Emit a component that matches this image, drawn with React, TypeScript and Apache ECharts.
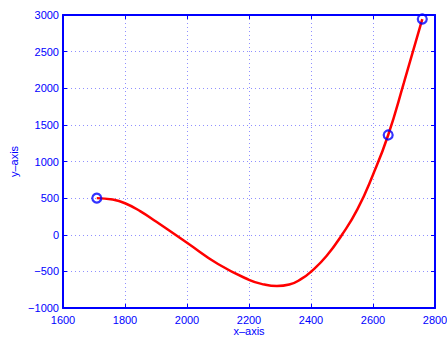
import React, { useEffect, useRef } from "react";
import * as echarts from "echarts";

const curveX = [1709, 1760, 1800, 1850, 1900, 2000, 2100, 2200, 2250, 2290, 2330, 2370, 2400, 2450, 2500, 2550, 2600, 2649, 2700, 2759];
const curveY = [500, 480, 430, 320, 180, -110, -400, -615, -680, -700, -680, -600, -505, -290, 0, 350, 820, 1362, 2080, 2945];
const markerX = [1709, 2649, 2759];
const markerY = [500, 1362, 2945];

const BLUE = "#0000ff";
const FONT = "Liberation Sans";

const fmt = (v: number) => (v < 0 ? "\u2212" + Math.abs(v) : String(v));

export default function App() {
  const ref = useRef<HTMLDivElement>(null);
  useEffect(() => {
    if (!ref.current) return;
    const chart = echarts.init(ref.current, undefined, { renderer: "svg" });
    const splitLine = {
      show: true,
      lineStyle: { color: "rgba(70,70,255,0.6)", type: [1, 3] as any, width: 1 },
    };
    const baseAxis = {
      axisLine: { show: true, onZero: false, lineStyle: { color: BLUE, width: 2 } },
      axisTick: { show: true, inside: true, length: 4, lineStyle: { color: BLUE, width: 1 } },
    };
    chart.setOption({
      animation: false,
      backgroundColor: "#ffffff",
      grid: { left: 63, right: 12, top: 15, bottom: 30, containLabel: false, outerBoundsMode: "none" },
      xAxis: [
        {
          ...baseAxis,
          type: "value",
          min: 1600,
          max: 2800,
          interval: 200,
          position: "bottom",
          splitLine,
          axisLabel: { color: BLUE, fontSize: 11, fontFamily: FONT, margin: 6, formatter: fmt },
          name: "x\u2013axis",
          nameLocation: "middle",
          nameGap: 17,
          nameMoveOverlap: false,
          nameTextStyle: { color: BLUE, fontSize: 11, fontFamily: FONT },
        },
        {
          ...baseAxis,
          type: "value",
          min: 1600,
          max: 2800,
          interval: 200,
          position: "top",
          splitLine: { show: false },
          axisLabel: { show: false },
        },
      ],
      yAxis: [
        {
          ...baseAxis,
          type: "value",
          min: -1000,
          max: 3000,
          interval: 500,
          position: "left",
          splitLine,
          axisLabel: { color: BLUE, fontSize: 11, fontFamily: FONT, margin: 4, formatter: fmt },
          name: "y\u2013axis",
          nameLocation: "middle",
          nameGap: 44,
          nameMoveOverlap: false,
          nameRotate: 90,
          nameTextStyle: { color: BLUE, fontSize: 11, fontFamily: FONT },
        },
        {
          ...baseAxis,
          type: "value",
          min: -1000,
          max: 3000,
          interval: 500,
          position: "right",
          splitLine: { show: false },
          axisLabel: { show: false },
        },
      ],
      series: [
        {
          type: "line",
          data: curveX.map((x, i) => [x, curveY[i]]),
          smooth: true,
          showSymbol: false,
          symbol: "none",
          lineStyle: { color: "#ff0000", width: 2.5 },
          z: 3,
        },
        {
          type: "scatter",
          data: markerX.map((x, i) => [x, markerY[i]]),
          symbol: "circle",
          symbolSize: 9,
          itemStyle: { color: "rgba(0,0,0,0)", borderColor: BLUE, borderWidth: 2.2 },
          z: 4,
        },
      ],
    });
    return () => chart.dispose();
  }, []);
  return (
    <div
      ref={ref}
      style={{ position: "fixed", left: 0, top: 0, width: 447, height: 338, background: "#fff" }}
    />
  );
}
